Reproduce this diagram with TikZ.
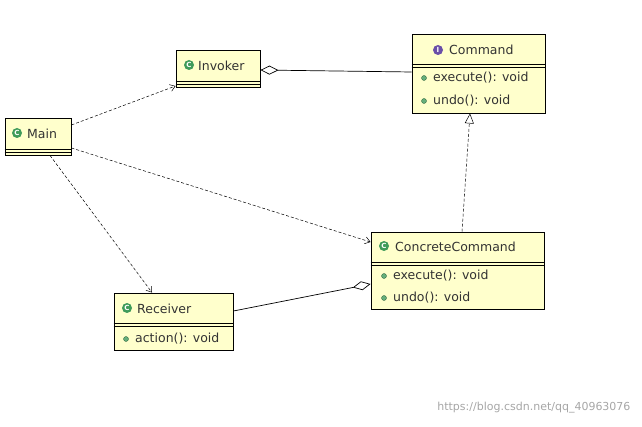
\documentclass[tikz,border=0pt]{standalone}
\usepackage{fontspec}
\setmainfont{DejaVu Sans}
\usetikzlibrary{arrows.meta}
\definecolor{boxy}{HTML}{FFFFCC}
\definecolor{icg}{HTML}{3F9B5A}
\definecolor{icp}{HTML}{6A4FA8}
\begin{document}
\begin{tikzpicture}[x=1pt,y=-1pt,
  box/.style={draw=black,fill=boxy,line width=0.9pt,inner sep=0pt},
  lbl/.style={font=\fontsize{12.5}{14}\selectfont,text=black!80,inner sep=0pt,anchor=west},
  ic/.style={circle,fill=icg,inner sep=0pt,minimum size=10pt,text=white,font=\bfseries\fontsize{7}{7}\selectfont},
  dot/.style={circle,fill=icg!80,draw=icg!60!black,line width=0.3pt,inner sep=0pt,minimum size=5pt},
  dep/.style={densely dashed,line width=0.5pt,-{Straight Barb[length=5pt,width=7pt]}},
  solid line/.style={line width=0.7pt}]
\useasboundingbox (0,0) rectangle (642,427);
% class boxes
\newcommand{\sep}[3]{\draw[line width=0.9pt] (#1.west |- 0,#2) -- (#1.east |- 0,#2);\draw[line width=0.9pt] (#1.west |- 0,#3) -- (#1.east |- 0,#3);}
\node[box,minimum width=84pt,minimum height=37pt] (inv) at (218,68.5) {};
\sep{inv}{81}{84}
\node[ic] (invi) at (189,65) {C};
\node[lbl] (invt) at (198,66) {Invoker};

\node[box,minimum width=133pt,minimum height=79pt] (cmd) at (478.5,73.5) {};
\sep{cmd}{64.5}{67.5}
\node[ic,fill=icp] (cmdi) at (438,50) {I};
\node[lbl] (cmdt) at (449,50) {Command};
\node[dot] (cd1) at (424,78) {};
\node[lbl] (cm1) at (433,78) {execute(): void};
\node[dot] (cd2) at (424,101) {};
\node[lbl] (cm2) at (433,101) {undo(): void};

\node[box,minimum width=66pt,minimum height=37pt] (main) at (38,136.5) {};
\sep{main}{149}{152}
\node[ic] (maini) at (17,133) {C};
\node[lbl] (maint) at (27,134) {Main};

\node[box,minimum width=173pt,minimum height=77pt] (cc) at (457.5,270.5) {};
\sep{cc}{262}{265}
\node[ic] (cci) at (384,246) {C};
\node[lbl] (cct) at (395,247) {ConcreteCommand};
\node[dot] (ccd1) at (384,276) {};
\node[lbl] (ccm1) at (393,276) {execute(): void};
\node[dot] (ccd2) at (384,298) {};
\node[lbl] (ccm2) at (393,298) {undo(): void};

\node[box,minimum width=119pt,minimum height=57pt] (rec) at (173.5,321.5) {};
\sep{rec}{323}{326}
\node[ic] (reci) at (127,308) {C};
\node[lbl] (rect) at (137,309) {Receiver};
\node[dot] (recd) at (126,339) {};
\node[lbl] (recm) at (135,339) {action(): void};

% connectors
\draw[solid line,-{Diamond[open,fill=white,length=18pt,width=9pt]}] (cmd.west |- 0,72) -- (inv.east |- 0,70);
\draw[dep] (main.east |- 0,125) -- (inv.west |- 0,86);
\draw[dep] (main.east |- 0,148) -- (cc.west |- 0,242);
\draw[dep] (main.south -| 50,0) -- (rec.north -| 152,0);
\draw[densely dashed,line width=0.5pt,-{Triangle[open,fill=white,length=10pt,width=9pt]}] (cc.north -| 462,0) -- (cmd.south -| 470,0);
\draw[solid line,-{Diamond[open,fill=white,length=18pt,width=9pt]}] (rec.east |- 0,311) -- (cc.west |- 0,284);
\node[text=black!35,font=\fontsize{11}{12}\selectfont,anchor=east] (wm) at (634,408) {https://blog.csdn.net/qq\_40963076};
\end{tikzpicture}
\end{document}
